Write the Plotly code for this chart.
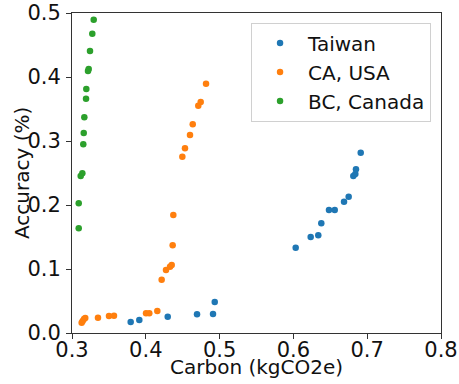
import plotly.graph_objects as go

series_names = ["Taiwan", "CA, USA", "BC, Canada"]
series_colors = ["#1f77b4", "#ff7f0e", "#2ca02c"]

taiwan_x = [0.3795, 0.3912, 0.4297, 0.4694, 0.4911, 0.4934, 0.6031, 0.6234, 0.6337,
            0.6378, 0.6482, 0.6560, 0.6686, 0.6749, 0.6812, 0.6839, 0.6848, 0.6912]
taiwan_y = [0.0172, 0.0203, 0.0255, 0.0292, 0.0297, 0.0484, 0.1333, 0.1500, 0.1527,
            0.1714, 0.1922, 0.1922, 0.2052, 0.2130, 0.2453, 0.2484, 0.2558, 0.2817]

ca_x = [0.3131, 0.3145, 0.3163, 0.3180, 0.3352, 0.3501, 0.3569, 0.4003, 0.4047, 0.4156,
        0.4215, 0.4274, 0.4328, 0.4351, 0.4364, 0.4373, 0.4495, 0.4531, 0.4599, 0.4636,
        0.4711, 0.4744, 0.4816]
ca_y = [0.0161, 0.0188, 0.0219, 0.0234, 0.0239, 0.0266, 0.0270, 0.0308, 0.0308, 0.0344,
        0.0833, 0.0984, 0.1036, 0.1063, 0.1370, 0.1844, 0.2755, 0.2886, 0.3094, 0.3261,
        0.3552, 0.3609, 0.3895]

bc_x = [0.3294, 0.3275, 0.3244, 0.3226, 0.3217, 0.3194, 0.3190, 0.3167, 0.3159, 0.3153,
        0.3140, 0.3118, 0.3091, 0.3091]
bc_y = [0.4895, 0.4677, 0.4406, 0.4125, 0.4094, 0.3813, 0.3661, 0.3370, 0.3125, 0.2948,
        0.2495, 0.2453, 0.2027, 0.1636]

x_ticks = [0.3, 0.4, 0.5, 0.6, 0.7, 0.8]
y_ticks = [0.0, 0.1, 0.2, 0.3, 0.4, 0.5]

x_title = "Carbon (kgCO2e)"
y_title = "Accuracy (%)"

FONT = "DejaVu Sans"

fig = go.Figure()
for name, color, xs, ys in zip(series_names, series_colors,
                               [taiwan_x, ca_x, bc_x], [taiwan_y, ca_y, bc_y]):
    fig.add_trace(go.Scatter(x=xs, y=ys, mode="markers", name=name,
                             marker=dict(color=color, size=6.5, line=dict(width=0))))

axis_common = dict(
    showline=True, mirror=True, linecolor="#333", linewidth=1,
    ticks="outside", ticklen=5, tickcolor="#333", tickwidth=1,
    showgrid=False, zeroline=False, automargin=False,
    tickfont=dict(family=FONT, size=21, color="#111"),
    tickformat=".1f", ticklabeloverflow="allow",
)

fig.update_layout(
    width=459, height=384,
    margin=dict(l=72, r=18, t=13, b=51),
    paper_bgcolor="white", plot_bgcolor="white",
    font=dict(family=FONT, size=20, color="#111"),
    xaxis=dict(range=[0.3, 0.8], tickvals=x_ticks, ticklabelstandoff=-7, **axis_common),
    yaxis=dict(range=[0, 0.5], tickvals=y_ticks, ticklabelstandoff=1, **axis_common),
    legend=dict(x=0.973, y=0.97, xanchor="right", yanchor="top",
                bordercolor="#d0d0d0", borderwidth=1, bgcolor="rgba(255,255,255,0.8)",
                font=dict(family=FONT, size=20), itemwidth=46, tracegroupgap=0),
    showlegend=True,
    annotations=[
        dict(text=x_title, xref="paper", yref="paper", x=0.5, y=-0.107,
             xanchor="center", yanchor="middle", showarrow=False,
             font=dict(family=FONT, size=20, color="#111")),
        dict(text=y_title, xref="paper", yref="paper", x=-0.1355, y=0.5,
             xanchor="center", yanchor="middle", textangle=-90, showarrow=False,
             font=dict(family=FONT, size=20, color="#111")),
    ],
)

fig.write_html("out.html", config={"displayModeBar": False},
               post_script="document.body.style.margin='0';")
